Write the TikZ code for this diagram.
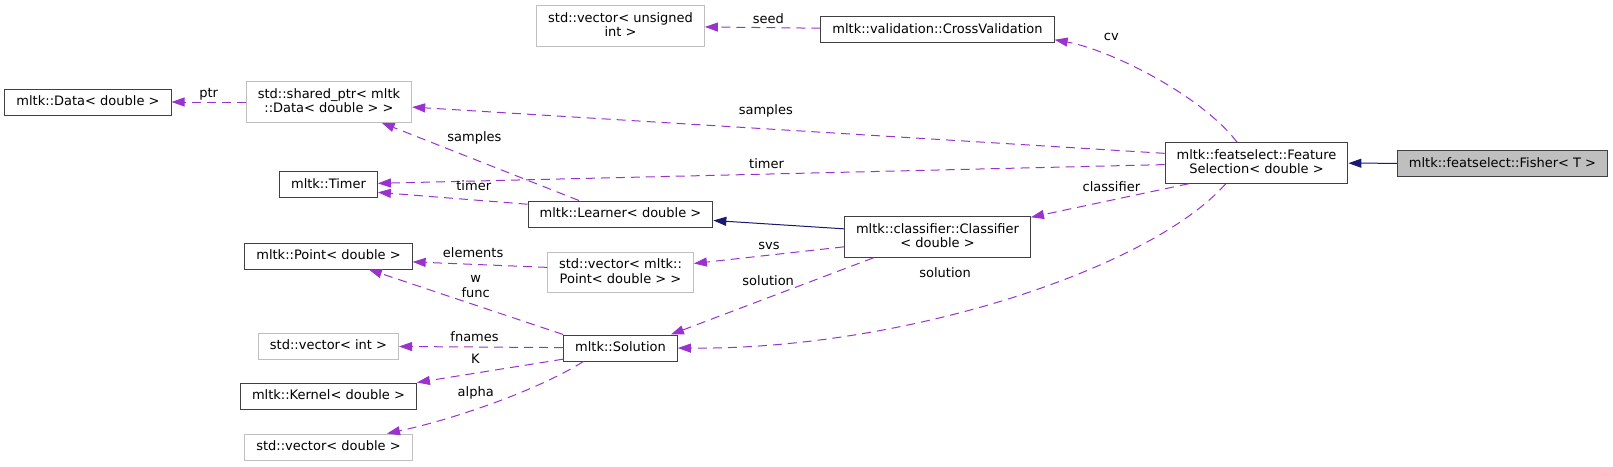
\documentclass[tikz,border=0pt]{standalone}
\usepackage{fontspec}
\setmainfont{DejaVu Sans}
\usetikzlibrary{arrows.meta}
\definecolor{cUsage}{HTML}{9A32CD}
\definecolor{cInherit}{HTML}{191970}
\definecolor{cUndoc}{HTML}{BFBFBF}
\definecolor{cBorder}{HTML}{404040}
\tikzset{
  cls/.style={draw=cBorder,line width=1pt,inner xsep=11.5pt,inner ysep=6.5pt,
              text height=10pt,text depth=3pt,align=center,
              font=\fontsize{13}{14.5}\selectfont},
  twoline/.style={text height=24.5pt,text depth=3pt},
  undoc/.style={cls,draw=cUndoc},
  selfcls/.style={cls,fill=cUndoc},
  usage/.style={draw=cUsage,line width=1pt,dash pattern=on 9pt off 6pt,
                -{Triangle[length=13pt,width=9pt,fill=cUsage]}},
  inherit/.style={draw=cInherit,line width=1pt,
                  -{Triangle[length=13pt,width=9pt,fill=cInherit]}},
  lbl/.style={inner sep=1pt,text height=10pt,text depth=3pt,align=center,
              font=\fontsize{13}{14.5}\selectfont}
}
\begin{document}
\begin{tikzpicture}[x=1pt,y=-1pt]
        \useasboundingbox (0,0) rectangle (1613,466);
        \node[cls] (data) at (88,102) {mltk::Data< double >};
        \node[undoc,twoline] (sharedptr) at (329,102) {std::shared\_ptr< mltk\\::Data< double > >};
        \node[cls] (timer) at (328.5,184.5) {mltk::Timer};
        \node[cls] (point) at (328.5,256) {mltk::Point< double >};
        \node[undoc] (vecint) at (328.5,346) {std::vector< int >};
        \node[cls] (kernel) at (328.5,396) {mltk::Kernel< double >};
        \node[undoc] (vecdouble) at (328.5,447) {std::vector< double >};
        \node[undoc,twoline] (vecuint) at (620.5,26) {std::vector< unsigned\\int >};
        \node[cls] (crossval) at (937.5,29.5) {mltk::validation::CrossValidation};
        \node[cls] (learner) at (620.5,214) {mltk::Learner< double >};
        \node[undoc,twoline] (vecpoint) at (620.5,272.5) {std::vector< mltk::\\Point< double > >};
        \node[cls] (solution) at (620.5,348) {mltk::Solution};
        \node[cls,twoline] (classifier) at (937.5,237) {mltk::classifier::Classifier\\< double >};
        \node[cls,twoline] (featsel) at (1256.5,163) {mltk::featselect::Feature\\Selection< double >};
        \node[selfcls] (fisher) at (1502.5,163.5) {mltk::featselect::Fisher< T >};

        \draw[usage] (sharedptr) -- node[lbl,above] {ptr} (data);
        \draw[usage] (featsel.174) -- node[lbl,above=9.5pt,pos=0.53] {samples} (sharedptr);
        \draw[usage] (learner.162) -- node[lbl,above=13.5pt,pos=0.53] {samples} (sharedptr);
        \draw[usage] (featsel.181) -- node[lbl,above=1.5pt,pos=0.506] {timer} (timer);
        \draw[usage] (learner.174) -- node[lbl,above=4.5pt,pos=0.36] {timer} (timer.-9);
        \draw[usage] (crossval) -- node[lbl,above,pos=0.45] {seed} (vecuint);
        \draw[usage] (featsel.133) .. controls +(-37,-48) and +(55,10) ..
              node[lbl,above=12pt,pos=0.7] {cv} (crossval.-5);
        \draw[inherit] (classifier.175) -- (learner.-4);
        \draw[usage] (featsel.197) -- node[lbl,above=4pt,pos=0.49] {classifier} (classifier);
        \draw[usage] (classifier.186) -- node[lbl,above=1.5pt] {svs} (vecpoint.7);
        \draw[usage] (classifier.198) -- node[lbl,above=8pt,pos=0.52] {solution} (solution.15);
        \draw[usage] (featsel.214) .. controls +(-76,86) and +(223,2) ..
              node[lbl,above=34pt,pos=0.6] {solution} (solution.east);
        \draw[usage] (vecpoint.176) -- node[lbl,above=2.5pt,pos=0.55] {elements} (point.-4);
        \draw[usage] (solution.north west) -- node[lbl,twoline,above=3.5pt,pos=0.45] {w\\func} (point);
        \draw[usage] (solution) -- node[lbl,above=1pt,pos=0.54] {fnames} (vecint);
        \draw[usage] (solution.191) -- node[lbl,above=5pt,pos=0.6] {K} (kernel.north east);
        \draw[usage] (solution.200) .. controls +(-46,29) and +(66,-14) ..
              node[lbl,above=8pt,pos=0.58] {alpha} (vecdouble.13);
        \draw[inherit] (fisher) -- (featsel);
      \end{tikzpicture}
\end{document}
